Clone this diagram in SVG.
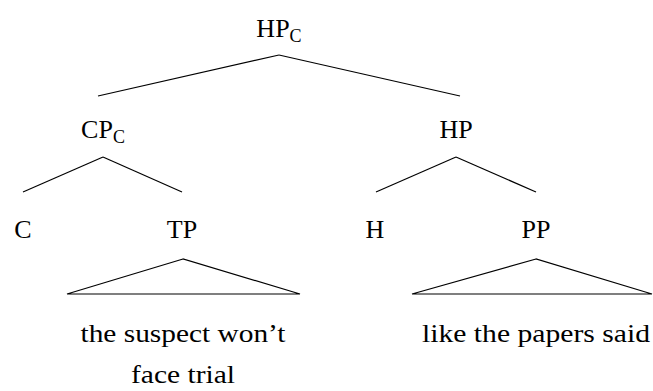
<svg xmlns="http://www.w3.org/2000/svg" width="653" height="391" viewBox="0 0 653 391">
<style>
text{font-size:26px;fill:#000;text-anchor:middle}
.sub{font-size:18px}
line,polygon{stroke:#000;stroke-width:1.2;fill:none}
</style>
<rect width="653" height="391" fill="#fff"/>
<g id="connectors">
<line x1="279" y1="55" x2="98" y2="96"/>
<line x1="279" y1="55" x2="460" y2="96"/>
<line x1="103" y1="157" x2="23" y2="192"/>
<line x1="103" y1="157" x2="182" y2="192"/>
<line x1="456" y1="157" x2="376" y2="192"/>
<line x1="456" y1="157" x2="536" y2="192"/>
<polygon points="183,259 67,294 300,294"/>
<polygon points="536,259 412,294 652,294"/>
</g>
<g id="HPc"><text x="279" y="37" font-family="Liberation Serif, serif">HP<tspan class="sub" dy="5">C</tspan></text></g>
<g id="CPc"><text x="103" y="138" font-family="Liberation Serif, serif">CP<tspan class="sub" dy="5">C</tspan></text></g>
<g id="HP"><text x="456" y="138" font-family="Liberation Serif, serif">HP</text></g>
<g id="C"><text x="23" y="238" font-family="Liberation Serif, serif">C</text></g>
<g id="TP"><text x="182" y="238" font-family="Liberation Serif, serif">TP</text></g>
<g id="H"><text x="375" y="238" font-family="Liberation Serif, serif">H</text></g>
<g id="PP"><text x="536" y="238" font-family="Liberation Serif, serif">PP</text></g>
<g id="TPleaf"><text x="183" y="342" font-family="Liberation Serif, serif" textLength="205" lengthAdjust="spacingAndGlyphs">the suspect won’t</text><text x="183" y="383" font-family="Liberation Serif, serif" textLength="104" lengthAdjust="spacingAndGlyphs">face trial</text></g>
<g id="PPleaf"><text x="536" y="342" font-family="Liberation Serif, serif" textLength="228" lengthAdjust="spacingAndGlyphs">like the papers said</text></g>
</svg>
